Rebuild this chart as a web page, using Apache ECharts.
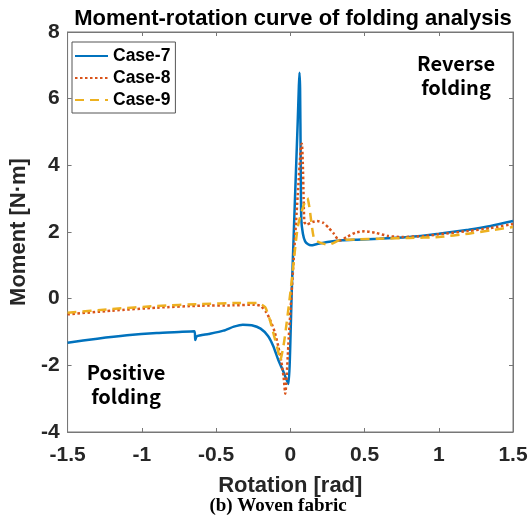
<!DOCTYPE html>
<html>
<head>
<meta charset="utf-8">
<script src="https://cdn.jsdelivr.net/npm/echarts@6/dist/echarts.min.js"></script>
<style>
  html, body { margin: 0; padding: 0; background: #fff; }
  #mychart { width: 531px; height: 515px; }
</style>
</head>
<body>
<div id="mychart"></div>
<script>
// rotation [rad] / moment [N·m]
var case7Rot = [-1.5, -1.3, -1.1, -0.9, -0.75, -0.645, -0.64, -0.63, -0.55, -0.45, -0.38, -0.32, -0.26, -0.2, -0.15, -0.115, -0.08, -0.05, -0.03, -0.012, 0.01, 0.03, 0.05, 0.058, 0.062, 0.066, 0.07, 0.074, 0.085, 0.1, 0.12, 0.14, 0.18, 0.25, 0.35, 0.45, 0.6, 0.8, 1.0, 1.2, 1.35, 1.5];
var case7Mom = [-1.32, -1.2, -1.1, -1.03, -1.0, -0.98, -1.24, -1.13, -1.06, -0.96, -0.84, -0.78, -0.8, -0.9, -1.12, -1.42, -1.85, -2.15, -2.38, -2.56, 0.25, 2.8, 5.3, 6.4, 6.78, 6.3, 4.2, 2.4, 1.95, 1.72, 1.63, 1.6, 1.64, 1.7, 1.75, 1.77, 1.8, 1.85, 1.95, 2.07, 2.18, 2.33];

var case8Rot = [-1.5, -1.2, -0.9, -0.6, -0.38, -0.25, -0.2, -0.16, -0.13, -0.105, -0.08, -0.06, -0.045, -0.034, -0.01, 0.02, 0.05, 0.072, 0.078, 0.084, 0.09, 0.095, 0.11, 0.15, 0.18, 0.22, 0.26, 0.29, 0.32, 0.34, 0.38, 0.44, 0.5, 0.57, 0.66, 0.75, 0.9, 1.0, 1.2, 1.35, 1.5];
var case8Mom = [-0.47, -0.36, -0.27, -0.21, -0.2, -0.18, -0.22, -0.42, -0.7, -1.0, -1.45, -1.9, -2.35, -2.85, -1.15, 0.97, 3.1, 4.6, 4.65, 4.1, 3.0, 2.3, 2.22, 2.3, 2.33, 2.28, 2.12, 1.97, 1.78, 1.75, 1.85, 1.98, 2.02, 1.98, 1.88, 1.85, 1.88, 1.93, 2.03, 2.12, 2.24];

var case9Rot = [-1.5, -1.2, -0.9, -0.6, -0.35, -0.22, -0.17, -0.14, -0.11, -0.083, -0.068, -0.04, 0.005, 0.05, 0.09, 0.115, 0.13, 0.16, 0.2, 0.26, 0.33, 0.45, 0.6, 0.8, 1.0, 1.2, 1.35, 1.5];
var case9Mom = [-0.42, -0.31, -0.22, -0.16, -0.13, -0.13, -0.25, -0.6, -1.1, -1.55, -1.85, -1.25, 0.35, 2.15, 2.8, 3.02, 2.7, 1.8, 1.68, 1.62, 1.75, 1.78, 1.8, 1.82, 1.85, 1.95, 2.05, 2.15];

var xTicks = { min: -1.5, max: 1.5, step: 0.5 };
var yTicks = { min: -4, max: 8, step: 2 };

function pairs(xs, ys) {
  var out = [];
  for (var i = 0; i < xs.length; i++) out.push([xs[i], ys[i]]);
  return out;
}

var mychart = echarts.init(document.getElementById('mychart'));
var axisGray = '#777';
var labelColor = '#262626';

var option = {
  animation: false,
  title: {
    text: 'Moment-rotation curve of folding analysis',
    left: 288, top: 3, textAlign: 'center',
    textStyle: { fontFamily: 'Liberation Sans', fontWeight: 'bold', fontSize: 22, color: '#000' }
  },
  legend: {
    orient: 'vertical', left: 72, top: 42,
    padding: [5, 5, 4, 2],
    itemGap: 4, itemWidth: 33, itemHeight: 18,
    borderColor: '#555', borderWidth: 1, backgroundColor: '#fff',
    itemStyle: { color: 'rgba(0,0,0,0)', borderColor: 'rgba(0,0,0,0)', borderWidth: 0 },
    textStyle: { fontFamily: 'Liberation Sans', fontWeight: 'bold', fontSize: 17.5, color: '#000', lineHeight: 18 },
    data: ['Case-7', 'Case-8', 'Case-9']
  },
  grid: { left: 62, right: 18, top: 32, bottom: 83, show: true, borderColor: axisGray, borderWidth: 1 },
  xAxis: [{
    type: 'value', min: xTicks.min, max: xTicks.max, interval: xTicks.step,
    name: 'Rotation [rad]', nameLocation: 'middle', nameGap: 43,
    nameTextStyle: { fontFamily: 'Liberation Sans', fontWeight: 'bold', fontSize: 22, color: labelColor },
    axisLine: { show: true, onZero: false, lineStyle: { color: axisGray } },
    axisTick: { inside: true, length: 4, lineStyle: { color: axisGray } },
    axisLabel: { margin: 13, fontFamily: 'Liberation Sans', fontWeight: 'bold', fontSize: 21, color: labelColor },
    splitLine: { show: false }
  }, {
    type: 'value', position: 'top', min: xTicks.min, max: xTicks.max, interval: xTicks.step,
    axisLine: { show: true, onZero: false, lineStyle: { color: axisGray } },
    axisTick: { inside: true, length: 4, lineStyle: { color: axisGray } },
    axisLabel: { show: false }, splitLine: { show: false }
  }],
  yAxis: [{
    type: 'value', min: yTicks.min, max: yTicks.max, interval: yTicks.step,
    name: 'Moment [N·m]', nameLocation: 'middle', nameGap: 30,
    nameTextStyle: { fontFamily: 'Liberation Sans', fontWeight: 'bold', fontSize: 22, color: labelColor },
    axisLine: { show: true, onZero: false, lineStyle: { color: axisGray } },
    axisTick: { inside: true, length: 4, lineStyle: { color: axisGray } },
    axisLabel: { margin: 8, fontFamily: 'Liberation Sans', fontWeight: 'bold', fontSize: 21, color: labelColor },
    splitLine: { show: false }
  }, {
    type: 'value', position: 'right', min: yTicks.min, max: yTicks.max, interval: yTicks.step,
    axisLine: { show: true, onZero: false, lineStyle: { color: axisGray } },
    axisTick: { inside: true, length: 4, lineStyle: { color: axisGray } },
    axisLabel: { show: false }, splitLine: { show: false }
  }],
  series: [
    {
      name: 'Case-7', type: 'line', symbol: 'none', smooth: 0.2, z: 3,
      lineStyle: { color: '#0072BD', width: 2.5 }, itemStyle: { color: '#0072BD' },
      data: pairs(case7Rot, case7Mom)
    },
    {
      name: 'Case-8', type: 'line', symbol: 'none', smooth: 0.2, z: 4,
      lineStyle: { color: '#D95319', width: 2.5, type: [2.5, 2.5] }, itemStyle: { color: '#D95319' },
      data: pairs(case8Rot, case8Mom)
    },
    {
      name: 'Case-9', type: 'line', symbol: 'none', smooth: 0.2, z: 5,
      lineStyle: { color: '#EDB120', width: 2.5, type: [9, 6] }, itemStyle: { color: '#EDB120' },
      data: pairs(case9Rot, case9Mom)
    }
  ],
  graphic: [
    { type: 'text', x: 456, y: 51, style: { text: 'Reverse\nfolding', align: 'center', fontFamily: 'Noto Sans CJK KR', fontWeight: 'bold', fontSize: 20, lineHeight: 24, fill: '#000' } },
    { type: 'text', x: 126, y: 360, style: { text: 'Positive\nfolding', align: 'center', fontFamily: 'Noto Sans CJK KR', fontWeight: 'bold', fontSize: 20, lineHeight: 24, fill: '#000' } },
    { type: 'text', x: 278, y: 497, style: { text: '(b) Woven fabric', align: 'center', fontFamily: 'Liberation Serif', fontWeight: 'bold', fontSize: 19, fill: '#000' } }
  ]
};
mychart.setOption(option);
</script>
</body>
</html>
